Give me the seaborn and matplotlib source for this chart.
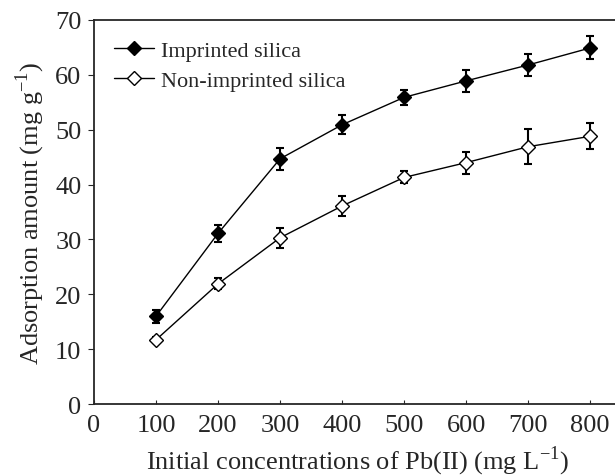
import matplotlib.pyplot as plt
import pandas as pd
import seaborn as sns

# initial Pb(II) concentration (mg/L)
conc = [100, 200, 300, 400, 500, 600, 700, 800]
imprinted = [16.0, 31.1, 44.7, 50.9, 55.9, 58.9, 61.8, 64.9]
imprinted_err = [1.2, 1.5, 2.0, 1.7, 1.4, 2.0, 2.0, 2.1]
non_imprinted = [11.7, 21.9, 30.3, 36.1, 41.3, 44.0, 46.9, 48.8]
non_imprinted_err = [0.5, 1.0, 1.8, 1.9, 1.1, 2.0, 3.2, 2.4]

series = [
    ("Imprinted silica", imprinted, imprinted_err, "black"),
    ("Non-imprinted silica", non_imprinted, non_imprinted_err, "white"),
]

df = pd.concat(
    pd.DataFrame({"conc": conc, "amount": vals, "err": errs, "sample": name})
    for name, vals, errs, _ in series
)

sns.set_style("ticks")
plt.rcParams["font.family"] = ["Liberation Serif", "DejaVu Serif"]
plt.rcParams["mathtext.fontset"] = "custom"
plt.rcParams["mathtext.rm"] = "Liberation Serif"

fig = plt.figure(figsize=(6.15, 4.77), dpi=100)
ax = fig.add_axes([94 / 615, 1 - 405 / 477, 1 - 94 / 615 + 0.01, (405 - 21) / 477])

for name, vals, errs, face in series:
    sub = df[df["sample"] == name]
    ax.errorbar(
        sub["conc"], sub["amount"], yerr=sub["err"], fmt="none",
        ecolor="black", elinewidth=1.5, capsize=3, capthick=1.5, zorder=2,
    )
    sns.lineplot(
        data=sub, x="conc", y="amount", ax=ax, color="black", lw=1,
        marker="D", markersize=7.5, markerfacecolor=face,
        markeredgecolor="black", markeredgewidth=1, label=name, zorder=3,
    )

ax.set(xlim=(0, 850), ylim=(0, 70))
ax.set_xticks(range(0, 801, 100))
ax.set_yticks(range(0, 71, 10))
ax.tick_params(axis="x", direction="in", length=3, labelsize=19, pad=7)
ax.tick_params(axis="y", direction="out", length=4, labelsize=19, pad=5)
for side in ("left", "top", "bottom", "right"):
    ax.spines[side].set_linewidth(1.3)
ax.set_xlabel(r"Initial concentrations of Pb(II) (mg L$^{\mathregular{-1}}$)", fontsize=19, labelpad=6)
ax.set_ylabel(r"Adsorption amount (mg g$^{\mathregular{-1}}$)", fontsize=19, labelpad=6)

ax.legend(loc="upper left", frameon=False, fontsize=16, handlelength=1.8,
          handletextpad=0.3, labelspacing=0.45, borderaxespad=0.5,
          bbox_to_anchor=(0.0, 1.0))

fig.savefig("out.png", dpi=100)
